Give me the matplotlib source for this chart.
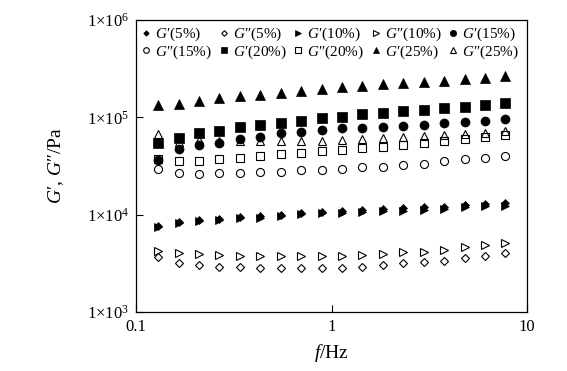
import matplotlib
matplotlib.use('Agg')
import matplotlib.pyplot as plt
from matplotlib.ticker import FixedLocator, FixedFormatter, NullLocator

plt.rcParams['font.family'] = ['Liberation Serif', 'DejaVu Serif']
plt.rcParams['mathtext.fontset'] = 'custom'
plt.rcParams['mathtext.rm'] = 'Liberation Serif'
plt.rcParams['mathtext.it'] = 'Liberation Serif:italic'
plt.rcParams['mathtext.bf'] = 'Liberation Serif:bold'

# ---------------- data ----------------
freq = [0.130, 0.165, 0.210, 0.267, 0.340, 0.432, 0.550, 0.699, 0.889,
        1.131, 1.439, 1.830, 2.328, 2.962, 3.767, 4.792, 6.095, 7.754]

g1_5 = [7.6e3, 8.4e3, 8.8e3, 9.0e3, 9.4e3, 9.6e3, 1.00e4, 1.04e4, 1.07e4,
        1.09e4, 1.12e4, 1.14e4, 1.16e4, 1.19e4, 1.21e4, 1.26e4, 1.30e4, 1.32e4]
g2_5 = [3.65e3, 3.21e3, 3.04e3, 2.92e3, 2.88e3, 2.81e3, 2.81e3, 2.81e3, 2.81e3,
        2.81e3, 2.88e3, 3.07e3, 3.19e3, 3.30e3, 3.38e3, 3.63e3, 3.76e3, 4.01e3]
g1_10 = [7.52e3, 8.27e3, 8.61e3, 8.81e3, 9.18e3, 9.31e3, 9.69e3, 1.009e4, 1.033e4,
         1.047e4, 1.072e4, 1.083e4, 1.096e4, 1.122e4, 1.135e4, 1.185e4, 1.218e4, 1.233e4]
g2_10 = [4.26e3, 4.01e3, 3.94e3, 3.85e3, 3.76e3, 3.76e3, 3.76e3, 3.76e3, 3.76e3,
         3.76e3, 3.85e3, 3.94e3, 4.09e3, 4.18e3, 4.33e3, 4.60e3, 4.88e3, 5.15e3]
g1_15 = [3.64e4, 4.69e4, 5.20e4, 5.41e4, 5.95e4, 6.32e4, 6.85e4, 7.12e4, 7.41e4,
         7.72e4, 7.86e4, 8.05e4, 8.20e4, 8.34e4, 8.81e4, 9.02e4, 9.23e4, 9.54e4]
g2_15 = [2.92e4, 2.65e4, 2.62e4, 2.66e4, 2.68e4, 2.76e4, 2.77e4, 2.88e4, 2.91e4,
         2.92e4, 3.07e4, 3.11e4, 3.24e4, 3.32e4, 3.56e4, 3.71e4, 3.79e4, 4.01e4]
g1_20 = [5.41e4, 6.18e4, 6.85e4, 7.29e4, 7.90e4, 8.34e4, 8.81e4, 9.23e4, 9.77e4,
         1.015e5, 1.074e5, 1.116e5, 1.161e5, 1.189e5, 1.238e5, 1.268e5, 1.339e5, 1.394e5]
g2_20 = [3.73e4, 3.58e4, 3.58e4, 3.71e4, 3.85e4, 3.96e4, 4.20e4, 4.33e4, 4.54e4,
         4.62e4, 4.81e4, 4.96e4, 5.20e4, 5.41e4, 5.75e4, 5.95e4, 6.32e4, 6.58e4]
g1_25 = [1.34e5, 1.371e5, 1.472e5, 1.580e5, 1.637e5, 1.696e5, 1.766e5, 1.865e5, 1.955e5,
         2.026e5, 2.099e5, 2.185e5, 2.237e5, 2.290e5, 2.378e5, 2.476e5, 2.553e5, 2.658e5]
g2_25 = [6.74e4, 5.58e4, 5.85e4, 5.71e4, 5.78e4, 5.78e4, 5.71e4, 5.71e4, 5.75e4,
         5.85e4, 5.92e4, 6.09e4, 6.23e4, 6.43e4, 6.58e4, 6.74e4, 6.95e4, 7.29e4]

labels = ["$G$\u2032(5%)", "$G$\u2033(5%)", "$G$\u2032(10%)", "$G$\u2033(10%)", "$G$\u2032(15%)",
          "$G$\u2033(15%)", "$G$\u2032(20%)", "$G$\u2033(20%)", "$G$\u2032(25%)", "$G$\u2033(25%)"]

xticks = [0.1, 1, 10]
xtick_labels = ["0.1", "1", "10"]
yticks = [1e3, 1e4, 1e5, 1e6]
ytick_labels = [r"$\mathregular{1{\times}10^{3}}$", r"$\mathregular{1{\times}10^{4}}$",
                r"$\mathregular{1{\times}10^{5}}$", r"$\mathregular{1{\times}10^{6}}$"]

series = [g1_5, g2_5, g1_10, g2_10, g1_15, g2_15, g1_20, g2_20, g1_25, g2_25]
markers = ['D', 'D', '>', '>', 'o', 'o', 's', 's', '^', '^']
filled = [True, False, True, False, True, False, True, False, True, False]
msizes = [4.0, 4.0, 6.0, 6.0, 6.5, 5.8, 6.5, 5.8, 6.5, 6.0]

# ---------------- figure ----------------
fig = plt.figure(figsize=(5.67, 3.71), dpi=100)
ax = fig.add_axes([136/567, 1-312/371, (527-136)/567, (312-20)/371])

handles = []
for ys, m, f, ms, lab in zip(series, markers, filled, msizes, labels):
    h, = ax.plot(freq, ys, linestyle='none', marker=m, markersize=ms,
                 markerfacecolor='black' if f else 'none',
                 markeredgecolor='black', markeredgewidth=0.8 if not f else 0.5,
                 label=lab)
    handles.append(h)

ax.set_xscale('log')
ax.set_yscale('log')
ax.set_xlim(0.1, 10)
ax.set_ylim(1e3, 1e6)

ax.xaxis.set_major_locator(FixedLocator(xticks))
ax.xaxis.set_major_formatter(FixedFormatter(xtick_labels))
ax.yaxis.set_major_locator(FixedLocator(yticks))
ax.yaxis.set_major_formatter(FixedFormatter(ytick_labels))
ax.xaxis.set_minor_locator(NullLocator())
ax.yaxis.set_minor_locator(NullLocator())
ax.tick_params(direction='in', length=5, width=0.8, labelsize=12,
               top=False, right=False, pad=5, colors='black')
for s in ax.spines.values():
    s.set_linewidth(0.9)
    s.set_color('black')

ax.set_xlabel(r"$f$/Hz", fontsize=14, labelpad=5)
ax.set_ylabel("$G$\u2032, $G$\u2033/Pa", fontsize=14, labelpad=15)

order = [0, 5, 1, 6, 2, 7, 3, 8, 4, 9]
leg = ax.legend([handles[i] for i in order], [labels[i] for i in order],
                ncol=5, loc='upper left', bbox_to_anchor=(0.0, 1.0),
                frameon=False, fontsize=11, markerscale=0.7,
                handlelength=0.55, handletextpad=0.3, columnspacing=0.5,
                labelspacing=0.0, borderaxespad=0.2, borderpad=0.2)

fig.savefig('out.png', dpi=100)
